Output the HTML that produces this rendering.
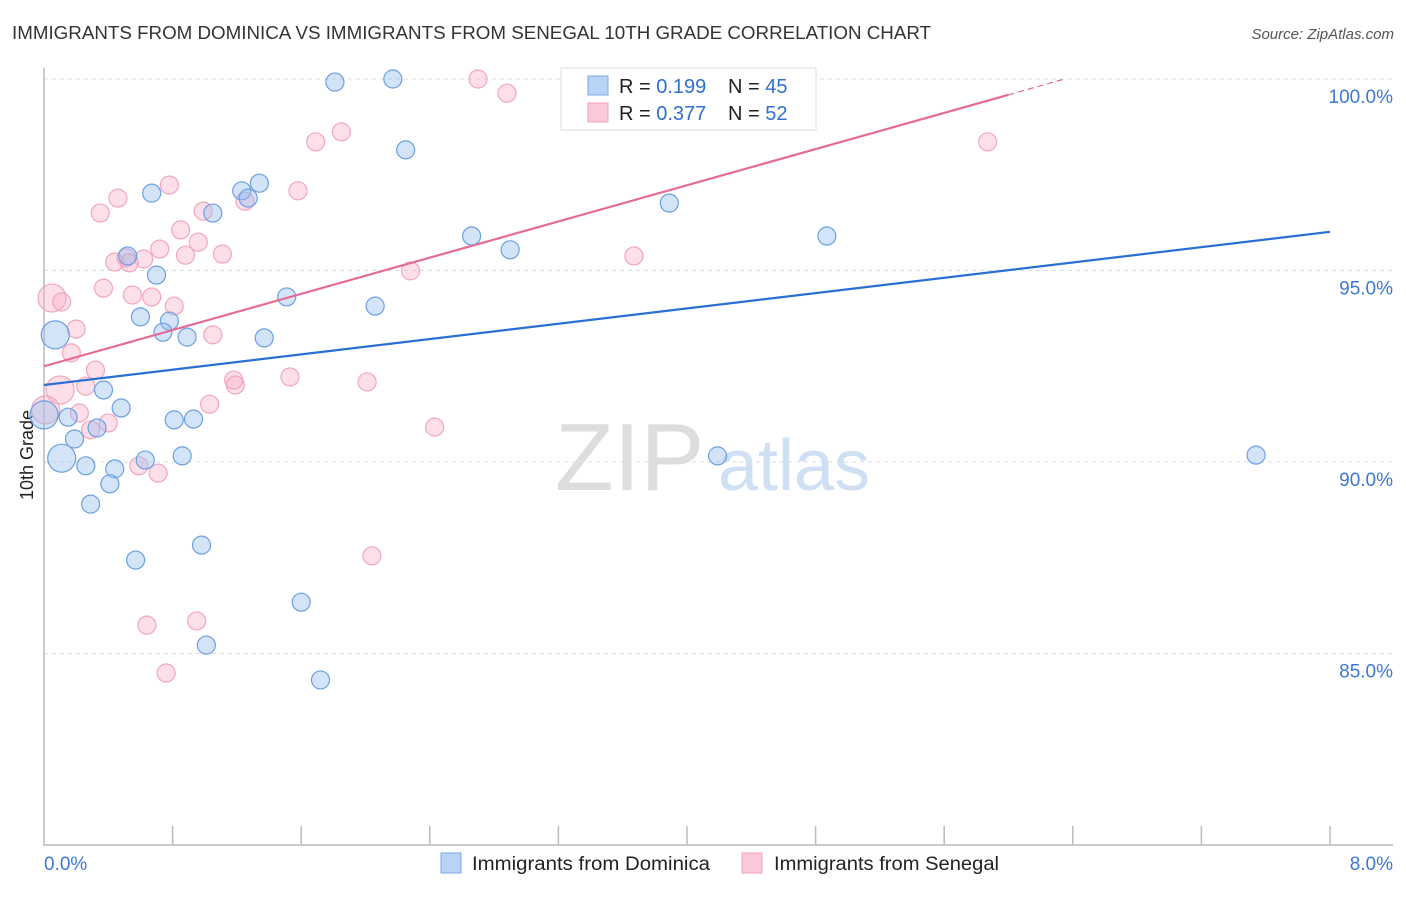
<!DOCTYPE html>
<html><head><meta charset="utf-8"><style>
body{margin:0;background:#fff;font-family:"Liberation Sans",sans-serif;}
svg text{font-family:"Liberation Sans",sans-serif;}
</style></head><body>
<svg id="c" width="1406" height="892" xmlns="http://www.w3.org/2000/svg">
<text x="12" y="39" font-size="18" fill="#333" textLength="919" lengthAdjust="spacingAndGlyphs">IMMIGRANTS FROM DOMINICA VS IMMIGRANTS FROM SENEGAL 10TH GRADE CORRELATION CHART</text>
<text x="1394" y="39" font-size="15" fill="#555" font-style="italic" text-anchor="end">Source: ZipAtlas.com</text>
<text x="33" y="455" font-size="18" fill="#222" text-anchor="middle" transform="rotate(-90 33 455)">10th Grade</text>
<g><text x="555" y="490" font-size="96" fill="#ddd" font-family="Liberation Serif,serif">ZIP</text><text x="718" y="490" font-size="72" fill="#cfe0f5">atlas</text></g>
<g id="grid"></g><g id="axes"></g><g id="pts"></g><g id="lines"></g>
<g>
<rect x="561" y="68" width="255" height="62" fill="#fff" stroke="#ddd"/>
<rect x="588" y="76" width="20" height="19" fill="#b7d3f5" stroke="#7aaae6"/>
<rect x="588" y="103" width="20" height="19" fill="#fac8d6" stroke="#f0a0b8"/>
<text x="619" y="93" font-size="20" fill="#222">R = <tspan fill="#2f6fd0">0.199</tspan><tspan x="728">N = </tspan><tspan fill="#2f6fd0">45</tspan></text>
<text x="619" y="120" font-size="20" fill="#222">R = <tspan fill="#2f6fd0">0.377</tspan><tspan x="728">N = </tspan><tspan fill="#2f6fd0">52</tspan></text>
</g>
<g>
<rect x="441" y="853" width="20" height="20" fill="#b7d3f5" stroke="#7aaae6"/>
<text x="472" y="870" font-size="19" fill="#222" textLength="238" lengthAdjust="spacingAndGlyphs">Immigrants from Dominica</text>
<rect x="742" y="853" width="20" height="20" fill="#fac8d6" stroke="#f0a0b8"/>
<text x="774" y="870" font-size="19" fill="#222" textLength="225" lengthAdjust="spacingAndGlyphs">Immigrants from Senegal</text>
</g>
</svg>
<script>
const yTicks=[85,90,95,100];
const xTickLabels=["0.0%","8.0%"];
const blueX=[1.81,2.17,2.25,0.67,1.23,1.34,1.27,1.05,2.66,2.90,3.89,4.87,0.70,0.52,1.51,2.06,0.60,0.78,0.74,0.89,1.37,0.07,0.37,0.15,0.48,0.19,0.33,0.81,0.93,0.63,0.86,0.11,0.26,0.44,0.41,0.29,4.19,7.54,0.57,0.98,1.60,1.01,1.72,0.0];
const blueY=[99.92,100.0,98.15,97.02,97.08,97.28,96.89,96.50,95.90,95.54,96.76,95.90,94.88,95.38,94.31,94.07,93.79,93.68,93.39,93.26,93.24,93.32,91.88,91.17,91.41,90.60,90.89,91.10,91.12,90.05,90.16,90.10,89.90,89.82,89.43,88.90,90.16,90.18,87.44,87.83,86.34,85.22,84.31,91.23];
const blueBig=[21,31,43];
const pinkX=[2.70,2.88,1.85,1.69,5.87,0.78,1.58,0.46,0.35,1.25,0.99,0.85,0.96,0.72,0.88,1.11,0.51,0.44,0.62,0.53,3.67,2.28,0.37,0.55,0.67,0.81,0.05,0.11,0.20,1.05,0.17,0.32,1.18,1.19,1.53,2.01,0.10,0.26,1.03,0.22,0.40,0.29,0.01,2.43,0.59,0.71,2.04,0.64,0.95,0.76];
const pinkY=[100.0,99.63,98.62,98.36,98.36,97.23,97.08,96.89,96.50,96.81,96.55,96.06,95.74,95.56,95.40,95.43,95.33,95.22,95.30,95.20,95.38,94.99,94.54,94.36,94.31,94.07,94.28,94.18,93.47,93.32,92.85,92.40,92.14,92.01,92.22,92.09,91.88,91.98,91.51,91.28,91.02,90.84,91.36,90.91,89.90,89.71,87.55,85.74,85.85,84.49];
const pinkBig=[26,36,42];
const blueTrend=[92.01,96.01];
const pinkTrend=[92.5,101.95];
const X=v=>44+v*(1286/8), Y=v=>79+(100-v)*38.3;
const NS="http://www.w3.org/2000/svg";
function mk(t,a,p){const e=document.createElementNS(NS,t);for(const k in a)e.setAttribute(k,a[k]);p.appendChild(e);return e;}
const grid=document.getElementById('grid'),axes=document.getElementById('axes'),pts=document.getElementById('pts'),lines=document.getElementById('lines');
yTicks.forEach(t=>{const l=mk('line',{x1:44,x2:1393,y1:Y(t),y2:Y(t),stroke:'#ddd','stroke-dasharray':'4,4'},grid);


const tx=mk('text',{x:1393,y:Y(t)+24,'font-size':19,fill:'#3b78d8','text-anchor':'end'},grid);tx.textContent=t.toFixed(1)+'%';

});
const ax=mk('path',{d:'M44,68V845H1393',stroke:'#bbb',fill:'none','stroke-width':1.5},axes);


for(let i=1;i<=10;i++){const tk=mk('line',{x1:X(i*0.8),x2:X(i*0.8),y1:826,y2:845,stroke:'#bbb','stroke-width':1.5},axes);

}
const xl0=mk('text',{x:44,y:870,'font-size':19,fill:'#3b78d8'},axes);xl0.textContent=xTickLabels[0];


const xl1=mk('text',{x:1393,y:870,'font-size':19,fill:'#3b78d8','text-anchor':'end'},axes);xl1.textContent=xTickLabels[1];


function dots(xs,ys,big,fill,stroke,name){xs.forEach((v,i)=>{const c=mk('circle',{cx:X(v),cy:Y(ys[i]),r:big.includes(i)?14:9,fill:fill,stroke:stroke,'stroke-width':1.2},pts);

});}
dots(pinkX,pinkY,pinkBig,'rgba(246,170,195,0.38)','#f2a6bd','point-senegal');
dots(blueX,blueY,blueBig,'rgba(150,190,240,0.42)','#6b9fe0','point-dominica');
const bl=mk('line',{x1:X(0),y1:Y(blueTrend[0]),x2:X(8),y2:Y(blueTrend[1]),stroke:'#2a6fd6','stroke-width':2.2},lines);


const py=x=>pinkTrend[0]+(pinkTrend[1]-pinkTrend[0])*x/8;
const pl=mk('line',{x1:X(0),y1:Y(py(0)),x2:X(6),y2:Y(py(6)),stroke:'#e56b96','stroke-width':2.2},lines);


const xEnd=(100-pinkTrend[0])*8/(pinkTrend[1]-pinkTrend[0]);
const pd=mk('line',{x1:X(6),y1:Y(py(6)),x2:X(xEnd),y2:Y(100),stroke:'#e56b96','stroke-width':1.2,'stroke-dasharray':'6,4'},lines);


</script>
</body></html>
